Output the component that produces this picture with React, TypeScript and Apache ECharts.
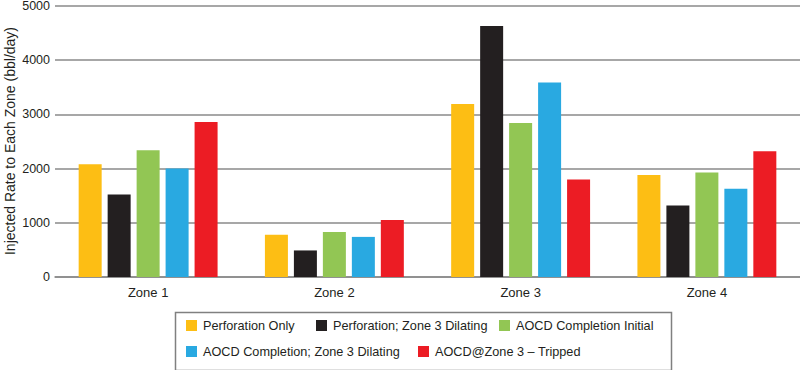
import React, { useEffect, useRef } from "react";
import * as echarts from "echarts";

const categories = ["Zone 1", "Zone 2", "Zone 3", "Zone 4"];
const seriesNames = [
  "Perforation Only",
  "Perforation; Zone 3 Dilating",
  "AOCD Completion Initial",
  "AOCD Completion; Zone 3 Dilating",
  "AOCD@Zone 3 – Tripped",
];
const perforationOnly = [2080, 780, 3190, 1880];
const perforationDilating = [1520, 490, 4630, 1320];
const aocdInitial = [2340, 830, 2840, 1930];
const aocdDilating = [2000, 740, 3590, 1630];
const aocdTripped = [2860, 1050, 1800, 2320];
const colors = ["#FDBE14", "#231F20", "#92C654", "#29A9E1", "#EC1C24"];
const yTicks = [0, 1000, 2000, 3000, 4000, 5000];
const yTitle = "Injected Rate to Each Zone (bbl/day)";

const FONT = "'Liberation Sans', Arial, Helvetica, sans-serif";

export default function App() {
  const ref = useRef<HTMLDivElement>(null);
  useEffect(() => {
    if (!ref.current) return;
    const chart = echarts.init(ref.current, undefined, { renderer: "svg" });
    const values = [perforationOnly, perforationDilating, aocdInitial, aocdDilating, aocdTripped];
    const legendPos = [
      { left: 186, top: 319 },
      { left: 316, top: 319 },
      { left: 499, top: 319 },
      { left: 186, top: 345 },
      { left: 418, top: 345 },
    ];
    const option: any = {
      animation: false,
      backgroundColor: "#ffffff",
      textStyle: { fontFamily: FONT },
      grid: { left: 55, right: 0, top: 6, bottom: 93, containLabel: false, outerBoundsMode: "none" },
      legend: seriesNames.map((n, i) => ({
        data: [n],
        left: legendPos[i].left,
        top: legendPos[i].top,
        padding: 0,
        itemWidth: 11,
        itemHeight: 11,
        itemGap: 0,
        icon: "rect",
        selectedMode: false,
        textStyle: { fontSize: 12.7, color: "#231f20", fontFamily: FONT, padding: [0, 0, 0, 1] },
      })),
      graphic: [
        {
          type: "rect",
          left: 173,
          top: 310,
          shape: { width: 496, height: 58 },
          style: { fill: "none", stroke: "#808080", lineWidth: 1.5 },
        },
        {
          type: "text",
          x: 9.5,
          y: 141,
          rotation: Math.PI / 2,
          style: {
            text: yTitle,
            fontSize: 14,
            fontFamily: FONT,
            fill: "#231f20",
            align: "center",
            verticalAlign: "middle",
          },
        },
      ],
      xAxis: {
        type: "category",
        data: categories,
        axisTick: { show: false },
        axisLine: { show: true, lineStyle: { color: "#8a8a8a", width: 1.5 } },
        axisLabel: { fontSize: 13, color: "#231f20", margin: 9, fontFamily: FONT },
      },
      yAxis: {
        type: "value",
        min: yTicks[0],
        max: yTicks[yTicks.length - 1],
        interval: 1000,
        axisLine: { show: false },
        axisTick: { show: false },
        axisLabel: {
          fontSize: 12.5,
          color: "#231f20",
          margin: 5,
          fontFamily: FONT,
          formatter: (v: number) => String(v),
        },
        splitLine: { show: true, lineStyle: { color: "#8a8a8a", width: 1.5 } },
      },
      series: seriesNames.map((n, i) => ({
        name: n,
        type: "bar",
        data: values[i],
        barWidth: 23,
        barGap: "26%",
        itemStyle: { color: colors[i] },
      })),
    };
    chart.setOption(option);
    return () => chart.dispose();
  }, []);
  return (
    <div
      ref={ref}
      style={{ position: "fixed", left: 0, top: 0, width: 800, height: 370, background: "#fff" }}
    />
  );
}
